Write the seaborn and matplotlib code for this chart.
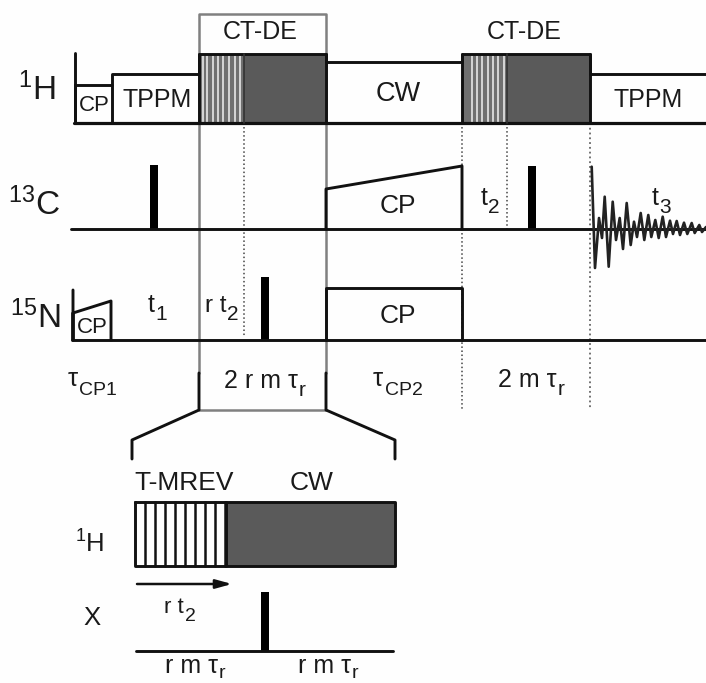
import matplotlib
matplotlib.use("Agg")
import matplotlib.pyplot as plt
import seaborn as sns

# pulse sequence values in image pixels
H1_BASE_X = [74, 706]
H1_OUTLINE_X = [75, 75, 75, 112, 112, 199, 199, 326, 326, 462, 462, 590, 590, 706]
H1_OUTLINE_Y = [53, 123, 85, 85, 74, 74, 54, 54, 62, 62, 54, 54, 74, 74]
H1_DIVIDERS_X = [112, 199, 326, 462, 590]
H1_TOPS_Y = [85, 54, 54, 54, 54]
DARK_BLOCKS = [(244, 326, 54, 123), (507, 590, 54, 123), (226, 395, 502, 566)]
GREY_BLOCKS = [(199, 244, 54, 123), (462, 507, 54, 123)]
WHITE_LINES_1 = [203, 207, 213, 218, 223, 229, 235, 240]
WHITE_LINES_2 = [472, 477, 482, 488, 493, 498, 504]
STRIPES_BOTTOM = [145, 155, 165, 175, 185, 195, 205, 215, 225]

C13_BASE_X = [71, 706]
C13_CP_X = [326, 326, 462, 462]
C13_CP_Y = [229, 189, 166, 229]
N15_BASE_X = [72, 706]
N15_CP1_X = [73, 73, 73, 111, 111]
N15_CP1_Y = [290, 340, 313, 301, 340]
N15_CP2_X = [326, 326, 462, 462]
N15_CP2_Y = [340, 288, 288, 340]

# x left, x right, top, bottom
HARD_PULSES = [(150, 158, 165, 229), (528, 536, 166, 229), (261, 269, 277, 340), (261, 269, 592, 651)]

FID_X = [591.7, 595, 599, 602, 604.7, 608.7, 612.7, 616, 619.7, 623, 626.7, 630.7, 634, 637, 640.7, 644.3, 648.3,
         651.3, 655.3, 658.7, 662.7, 666, 670, 673, 676.7, 680, 684, 687.3, 691.7, 694.7, 699.3, 702, 706]
FID_Y = [166.7, 268, 218, 238, 196.7, 266.7, 201.7, 240, 218, 249, 203, 245, 221.7, 237, 213, 240, 215,
         237, 220, 238, 216.7, 237, 220.7, 234, 221, 235, 222.7, 234, 223, 233, 225, 232, 227]

# anchor x, baseline y, alignment, text, size
LABELS = [
    (18, 100, "left", r"$\mathrm{^{1}H}$", 24),
    (8, 215, "left", r"$\mathrm{^{13}C}$", 24),
    (10, 328, "left", r"$\mathrm{^{15}N}$", 24),
    (94, 111, "center", "CP", 16),
    (157, 107, "center", "TPPM", 18),
    (260, 39, "center", "CT-DE", 18),
    (524, 39, "center", "CT-DE", 18),
    (398, 101, "center", "CW", 19.5),
    (648, 107, "center", "TPPM", 18),
    (398, 213, "center", "CP", 19),
    (398, 323, "center", "CP", 19),
    (92, 333, "center", "CP", 16),
    (184, 490, "center", "T-MREV", 19),
    (312, 490, "center", "CW", 19),
    (75, 553, "left", r"$\mathrm{^{1}H}$", 18.5),
    (92, 625, "center", "X", 18.5),
]

# main x, main y, main text, main size, sub x, sub y, sub text, sub size
SUB_LABELS = [
    (481, 205, "t", 18, 488, 213, "2", 15),
    (652, 205, "t", 18, 659, 213, "3", 15),
    (148, 312, "t", 18, 155, 320, "1", 15),
    (205, 312, "r t", 17.5, 227, 320, "2", 15),
    (68, 386, "τ", 18.5, 79, 395, "CP1", 14),
    (373, 386, "τ", 18.5, 385, 395, "CP2", 14),
    (224, 388, "2 r m τ", 18, 299, 396, "r", 15),
    (498, 387, "2 m τ", 18, 558, 395, "r", 15),
    (164, 613, "r t", 16, 185, 621, "2", 14),
    (165, 673, "r m τ", 18, 219, 678, "r", 14),
    (298, 673, "r m τ", 18, 352, 678, "r", 14),
]

sns.set_theme(style="white")
plt.rcParams['font.family'] = ['Liberation Sans', 'DejaVu Sans']
plt.rcParams['mathtext.fontset'] = 'custom'
plt.rcParams['mathtext.rm'] = 'Liberation Sans'
plt.rcParams['mathtext.default'] = 'rm'

BLACK = "#111111"
GREY = "#808080"
DARK = "#5a5a5a"
TEXT = "#1a1a1a"
LW = 2.1

fig = plt.figure(figsize=(7.06, 6.83), dpi=100, facecolor="#fefefe")
ax = fig.add_axes([0, 0, 1, 1], facecolor="#fefefe")


def line(xs, ys, color=BLACK, lw=LW, ls="-"):
    sns.lineplot(x=xs, y=ys, sort=False, estimator=None, color=color, linewidth=lw, linestyle=ls, ax=ax)


# grey frames and timing lines go under the pulses
line([199, 199, 326, 326], [373, 14, 14, 373], color=GREY, lw=1.8)
line([199, 326], [410, 410], color=GREY, lw=1.8)
line([244, 244], [123, 337], color="#444444", lw=1.1, ls=":")
line([462, 462], [229, 410], color="#444444", lw=1.1, ls=":")
line([507, 507], [123, 229], color="#444444", lw=1.1, ls=":")
line([590, 590], [123, 410], color="#666666", lw=1.3, ls=":")
line([462, 462], [123, 166], color="#444444", lw=1.1, ls=":")

# dark CW blocks
for x0, x1, top, bottom in DARK_BLOCKS:
    ax.fill_between([x0, x1], top, bottom, color=DARK, lw=0)

# T-MREV stripes, grey with thin white gaps at this scale
for x0, x1, top, bottom in GREY_BLOCKS:
    ax.fill_between([x0, x1], top, bottom, color="#707070", lw=0)
for x in WHITE_LINES_1 + WHITE_LINES_2:
    line([x, x], [54, 123], color="#f2f2f2", lw=1.1)
for x in STRIPES_BOTTOM:
    line([x, x], [502, 566], lw=1.8)

# 1H channel
line(H1_BASE_X, [123, 123], lw=2.3)
line(H1_OUTLINE_X, H1_OUTLINE_Y)
for x, top in zip(H1_DIVIDERS_X, H1_TOPS_Y):
    line([x, x], [top, 123])
line([244, 244], [54, 123], color="#333333", lw=1.2)
line([507, 507], [54, 123], color="#333333", lw=1.2)

# 13C channel
line(C13_BASE_X, [229, 229])
line(C13_CP_X, C13_CP_Y)

# 15N channel
line(N15_BASE_X, [340, 340])
line(N15_CP1_X, N15_CP1_Y)
line(N15_CP2_X, N15_CP2_Y)

for x0, x1, top, bottom in HARD_PULSES:
    ax.fill_between([x0, x1], top, bottom, color="black", lw=0)

# FID
line(FID_X, FID_Y, color="#222222", lw=1.9)

# bracket to the expanded view
line([199, 199, 132, 132], [373, 410, 440, 459])
line([326, 326, 395, 395], [373, 410, 440, 459])

# expanded view
line([135, 395, 395, 135, 135], [502, 502, 566, 566, 502])
line([226, 226], [502, 566])
line([136, 393], [651, 651])
ax.annotate("", xy=(232, 584), xytext=(137, 584),
            arrowprops=dict(arrowstyle="-|>,head_length=0.8,head_width=0.22", color=BLACK, lw=1.8,
                            shrinkA=0, shrinkB=0))

for x, y, ha, txt, size in LABELS:
    ax.text(x, y, txt, ha=ha, va="baseline", fontsize=size, color=TEXT)

for x, y, txt, size, sx, sy, sub, subsize in SUB_LABELS:
    ax.text(x, y, txt, ha="left", va="baseline", fontsize=size, color=TEXT)
    ax.text(sx, sy, sub, ha="left", va="baseline", fontsize=subsize, color=TEXT)

ax.set_xlim(0, 706)
ax.set_ylim(683, 0)
ax.axis("off")

fig.savefig("out.png", dpi=100, facecolor=fig.get_facecolor())
